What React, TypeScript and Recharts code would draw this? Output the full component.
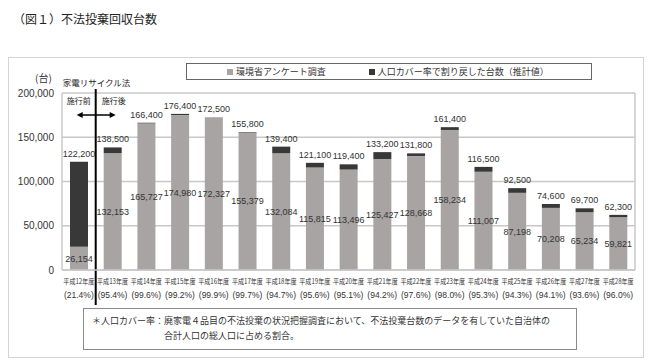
import React from 'react';
import {
  BarChart,
  Bar,
  XAxis,
  YAxis,
  CartesianGrid,
  LabelList,
  Legend,
  ReferenceLine
} from 'recharts';

const years = [
  '平成12年度', '平成13年度', '平成14年度', '平成15年度', '平成16年度', '平成17年度',
  '平成18年度', '平成19年度', '平成20年度', '平成21年度', '平成22年度', '平成23年度',
  '平成24年度', '平成25年度', '平成26年度', '平成27年度', '平成28年度'
];
const coverage = [
  '(21.4%)', '(95.4%)', '(99.6%)', '(99.2%)', '(99.9%)', '(99.7%)',
  '(94.7%)', '(95.6%)', '(95.1%)', '(94.2%)', '(97.6%)', '(98.0%)',
  '(95.3%)', '(94.3%)', '(94.1%)', '(93.6%)', '(96.0%)'
];
// 環境省アンケート調査
const surveyCounts = [
  26154, 132153, 165727, 174980, 172327, 155379, 132084, 115815, 113496,
  125427, 128668, 158234, 111007, 87198, 70208, 65234, 59821
];
// 人口カバー率で割り戻した台数（推計値）
const totalCounts = [
  122200, 138500, 166400, 176400, 172500, 155800, 139400, 121100, 119400,
  133200, 131800, 161400, 116500, 92500, 74600, 69700, 62300
];
const yTicks = [0, 50000, 100000, 150000, 200000];

const GRAY = '#a7a4a3';
const DARK = '#383838';
const GRID = '#c8c8c8';
const NUM_FONT = '"Liberation Sans", Arial, sans-serif';
const JP_FONT = '"Noto Sans CJK JP", sans-serif';

const data = years.map((year, i) => ({
  year,
  survey: surveyCounts[i],
  extra: totalCounts[i] - surveyCounts[i],
  total: totalCounts[i]
}));

const fmt = (v: any) => Number(v).toLocaleString('en-US');

const YearTick = (props: any) => {
  const { x, y, payload } = props;
  const i = years.indexOf(payload.value);
  return (
    <g transform={`translate(${x},${y})`}>
      <text x={0} y={0} dy={6} textAnchor="middle" fontSize={7} fill="#333"
        fontFamily={JP_FONT} textLength={31} lengthAdjust="spacingAndGlyphs">
        {payload.value}
      </text>
      <text x={0} y={0} dy={20} textAnchor="middle" fontSize={8.5} fill="#333" fontFamily={NUM_FONT}>
        {coverage[i]}
      </text>
    </g>
  );
};

// 家電リサイクル法 施行の境目
const LawLine = (props: any) => {
  const { x1 } = props;
  const top = Math.min(props.y1, props.y2);
  const bottom = Math.max(props.y1, props.y2);
  const ay = top + 22;
  return (
    <g fontFamily={JP_FONT} fill="#222">
      <line x1={x1} y1={top - 4} x2={x1} y2={bottom + 35} stroke="#000" strokeWidth={2} />
      <text x={x1 - 33} y={top - 7} fontSize={8.5}>家電リサイクル法</text>
      <text x={x1 - 29} y={top + 11} fontSize={8}>施行前</text>
      <text x={x1 + 6} y={top + 11} fontSize={8}>施行後</text>
      <line x1={x1 - 15} y1={ay} x2={x1 + 16} y2={ay} stroke="#000" strokeWidth={1.5} />
      <polygon points={`${x1 - 19},${ay} ${x1 - 13},${ay - 3} ${x1 - 13},${ay + 3}`} fill="#000" />
      <polygon points={`${x1 + 20},${ay} ${x1 + 14},${ay - 3} ${x1 + 14},${ay + 3}`} fill="#000" />
    </g>
  );
};

const LegendBox = () => (
  <div style={{
    boxSizing: 'border-box', width: 406, height: 17, border: '1px solid #666',
    display: 'flex', alignItems: 'center', fontFamily: JP_FONT, fontSize: 9, color: '#333'
  }}>
    <span style={{ display: 'inline-block', width: 6, height: 6, background: GRAY, marginLeft: 40, marginRight: 3 }} />
    <span>環境省アンケート調査</span>
    <span style={{ display: 'inline-block', width: 6, height: 6, background: DARK, marginLeft: 43, marginRight: 3 }} />
    <span>人口カバー率で割り戻した台数（推計値）</span>
  </div>
);

export default function App() {
  return (
    <div style={{ position: 'absolute', left: 0, top: 0, width: 650, height: 361, background: '#fff', fontFamily: JP_FONT }}>
      <div style={{ position: 'absolute', left: 13, top: 10, fontSize: 12, color: '#222', whiteSpace: 'nowrap' }}>
        （図１）不法投棄回収台数
      </div>
      <div style={{ position: 'absolute', left: 8, top: 57, width: 636, height: 301, boxSizing: 'border-box', border: '1px solid #d4d4d4' }} />
      <div style={{ position: 'absolute', left: 35, top: 70, fontSize: 10, color: '#333' }}>(台)</div>

      <div style={{ position: 'absolute', left: 0, top: 0 }}>
        <BarChart
          width={650}
          height={361}
          data={data}
          margin={{ top: 93, right: 15, left: 8, bottom: 51 }}
          barSize={18}
        >
          <CartesianGrid
            stroke={GRID}
            strokeWidth={1.5}
            verticalCoordinatesGenerator={({ offset }: any) => [offset.left, offset.left + offset.width]}
          />
          <XAxis
            dataKey="year"
            interval={0}
            height={40}
            tickLine={false}
            axisLine={{ stroke: GRID, strokeWidth: 1.5 }}
            tick={<YearTick />}
          />
          <YAxis
            width={54}
            domain={[0, 200000]}
            ticks={yTicks}
            tickLine={false}
            axisLine={false}
            tickFormatter={fmt}
            tick={{ fontSize: 10, fill: '#333', fontFamily: NUM_FONT }}
          />
          <Legend
            layout="horizontal"
            verticalAlign="middle"
            align="center"
            content={() => <LegendBox />}
            wrapperStyle={{ top: 63, left: 186, width: 406, height: 17 }}
          />
          <Bar dataKey="survey" name="環境省アンケート調査" stackId="a" fill={GRAY} isAnimationActive={false}>
            <LabelList dataKey="survey" position="center" formatter={fmt}
              style={{ fontSize: 9, fill: '#333', fontFamily: NUM_FONT }} />
          </Bar>
          <Bar dataKey="extra" name="人口カバー率で割り戻した台数（推計値）" stackId="a" fill={DARK} isAnimationActive={false}>
            <LabelList dataKey="total" position="top" formatter={fmt}
              style={{ fontSize: 9, fill: '#333', fontFamily: NUM_FONT }} />
          </Bar>
          <ReferenceLine x="平成13年度" position="start" stroke="#000" shape={<LawLine />} />
        </BarChart>
      </div>

      <div style={{
        position: 'absolute', left: 83, top: 308, width: 494, height: 42, boxSizing: 'border-box',
        border: '1px solid #8a8a8a', fontSize: 9, color: '#333', lineHeight: '15px', padding: '4px 0 0 8px'
      }}>
        <div>＊人口カバー率：廃家電４品目の不法投棄の状況把握調査において、不法投棄台数のデータを有していた自治体の</div>
        <div style={{ paddingLeft: 72 }}>合計人口の総人口に占める割合。</div>
      </div>
    </div>
  );
}
